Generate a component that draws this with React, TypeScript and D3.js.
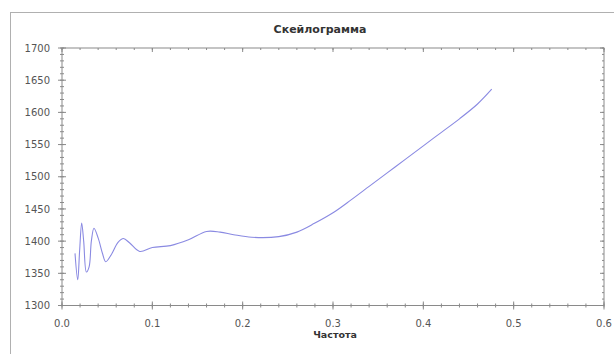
import { useRef, useEffect } from 'react';
import * as d3 from 'd3';

// scalogram curve
const freq = [0.0144, 0.0174, 0.0195, 0.0218, 0.024, 0.027, 0.030, 0.0325, 0.0354, 0.040, 0.045, 0.0484,
  0.055, 0.062, 0.068, 0.075, 0.086, 0.1, 0.12, 0.14, 0.16, 0.175, 0.19, 0.21, 0.24, 0.26, 0.28,
  0.30, 0.32, 0.34, 0.36, 0.38, 0.40, 0.42, 0.44, 0.46, 0.4757];
const scale = [1381, 1340, 1385, 1428, 1400, 1352, 1360, 1400, 1420, 1405, 1380, 1368,
  1380, 1398, 1404, 1397, 1384, 1390, 1393, 1402, 1415, 1414, 1410, 1406, 1407, 1414, 1428,
  1444, 1464, 1485, 1506, 1527, 1548, 1569, 1590, 1613, 1636];

const xTicks = [0, 0.1, 0.2, 0.3, 0.4, 0.5, 0.6];
const yTicks = [1300, 1350, 1400, 1450, 1500, 1550, 1600, 1650, 1700];

export default function App() {
  const svgRef = useRef<SVGSVGElement>(null);

  useEffect(() => {
    if (!svgRef.current) return;
    const svg = d3.select(svgRef.current);
    svg.selectAll('*').remove();

    const left = 62, right = 604, top = 48, bottom = 305.5;
    const x = d3.scaleLinear().domain([0, 0.6]).range([left, right]);
    const y = d3.scaleLinear().domain([1300, 1700]).range([bottom, top]);
    const axisColor = '#8a8a8a';
    const font = 'DejaVu Sans, Verdana, sans-serif';

    // outer frame
    svg.append('rect')
      .attr('x', 10.5).attr('y', 12.5)
      .attr('width', 640).attr('height', 400)
      .attr('fill', 'none').attr('stroke', '#b0b0b0');

    svg.append('text')
      .attr('x', 320).attr('y', 33)
      .attr('text-anchor', 'middle')
      .attr('font-family', font).attr('font-size', 11).attr('font-weight', 'bold')
      .attr('fill', '#333')
      .text('Скейлограмма');

    // box
    svg.append('rect')
      .attr('x', left).attr('y', top)
      .attr('width', right - left).attr('height', bottom - top)
      .attr('fill', 'none').attr('stroke', axisColor);

    const g = svg.append('g').attr('stroke', axisColor).attr('stroke-width', 1);
    const xMinor = d3.range(0, 0.6001, 0.02);
    const yMinor = d3.range(1300, 1700.1, 10);

    xMinor.forEach(v => {
      const px = x(v);
      g.append('line').attr('x1', px).attr('x2', px).attr('y1', bottom - 2).attr('y2', bottom + 2);
      g.append('line').attr('x1', px).attr('x2', px).attr('y1', top).attr('y2', top + 2);
    });
    xTicks.forEach(v => {
      const px = x(v);
      g.append('line').attr('x1', px).attr('x2', px).attr('y1', bottom - 4).attr('y2', bottom + 4);
      g.append('line').attr('x1', px).attr('x2', px).attr('y1', top).attr('y2', top + 4);
    });
    yMinor.forEach(v => {
      const py = y(v);
      g.append('line').attr('x1', left - 2).attr('x2', left + 2).attr('y1', py).attr('y2', py);
      g.append('line').attr('x1', right - 2).attr('x2', right).attr('y1', py).attr('y2', py);
    });
    yTicks.forEach(v => {
      const py = y(v);
      g.append('line').attr('x1', left - 4).attr('x2', left + 4).attr('y1', py).attr('y2', py);
      g.append('line').attr('x1', right - 4).attr('x2', right).attr('y1', py).attr('y2', py);
    });

    svg.append('g').selectAll('text')
      .data(xTicks).join('text')
      .attr('x', d => x(d)).attr('y', 327)
      .attr('text-anchor', 'middle')
      .attr('font-family', font).attr('font-size', 10).attr('fill', '#555')
      .text(d => d3.format('.1f')(d));

    svg.append('g').selectAll('text')
      .data(yTicks).join('text')
      .attr('x', 50).attr('y', d => y(d)).attr('dy', '0.36em')
      .attr('text-anchor', 'end')
      .attr('font-family', font).attr('font-size', 10).attr('fill', '#555')
      .text(d => d);

    svg.append('text')
      .attr('x', 335).attr('y', 338)
      .attr('text-anchor', 'middle')
      .attr('font-family', font).attr('font-size', 9.5).attr('font-weight', 'bold')
      .attr('fill', '#333')
      .text('Частота');

    const pts = freq.map((f, i) => [f, scale[i]] as [number, number]);
    const line = d3.line<[number, number]>()
      .x(d => x(d[0])).y(d => y(d[1]))
      .curve(d3.curveCatmullRom.alpha(0.5));

    svg.append('path')
      .attr('d', line(pts))
      .attr('fill', 'none')
      .attr('stroke', '#8a8ae2')
      .attr('stroke-width', 1.1);
  }, []);

  return (
    <svg ref={svgRef} width={614} height={354}
      style={{ position: 'absolute', left: 0, top: 0, background: '#fff' }} />
  );
}
